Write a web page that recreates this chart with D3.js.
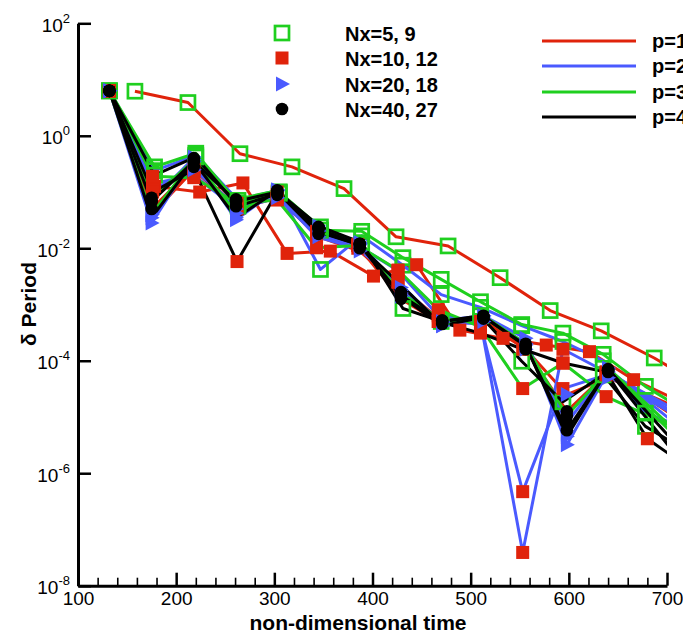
<!DOCTYPE html>
<html><head><meta charset="utf-8">
<script src="https://cdn.jsdelivr.net/npm/d3@7"></script>
<style>body{margin:0;background:#fff} svg{display:block;font-family:"Liberation Sans",Arial,Helvetica,sans-serif}</style>
</head><body><svg id="c" width="683" height="633"></svg>
<script>
// ---------- data ----------
// time grids (non-dimensional time of each detected period)
const tA = [132,175,218,261,303,345,387,429,471,513,556,598,640,724];
const tB = [132,178,220,263,305,347,389,431,470,510,552,594,635,678,720];
const tC = [158,212,265,318,371,424,477,530,581,633,687,740];
const tD = [132,178,224,268,313,357,401,445,489,533,577,621,666,710];
const tE = [132,176,218,262,303,343,385,426,467,510,553,594,638,680,722];
const tF = [132,176,218,262,303,343,385,426,467,510,553,594,638,722];

// Nx=40, 27 (circles)
const p4nx40 = [6.3,0.068,0.35,0.068,0.10,0.022,0.0117,1.45e-3,5.0e-4,6.2e-4,1.8e-4,5.8e-6,6.8e-5,1.0e-6];
const p3nx40 = [6.3,0.079,0.36,0.074,0.105,0.024,0.012,1.6e-3,5.2e-4,6.0e-4,1.86e-4,1.05e-5,6.8e-5,2.5e-6];
const p2nx40 = [6.3,0.071,0.40,0.071,0.107,0.023,0.012,1.66e-3,5.2e-4,6.3e-4,2.0e-4,7.9e-6,7.1e-5,4.6e-6];
const p1nx40 = [6.3,0.05,0.28,0.056,0.089,0.018,0.01,1.26e-3,4.5e-4,5.6e-4,1.6e-4,1.26e-5,6.3e-5,6.6e-6];
// Nx=20, 18 (triangles)
const p4nx20 = [6.3,0.035,0.35,0.035,0.105,0.02,0.0115,1.4e-3,4.2e-4,6.0e-4,1.9e-4,4.5e-6,7.1e-5,1.7e-6];
const p3nx20 = [6.3,0.04,0.38,0.042,0.107,0.025,0.012,1.6e-3,4.8e-4,6.3e-4,2.0e-4,5.0e-6,7.4e-5,3.2e-6];
const p2nx20 = [6.3,0.028,0.42,0.032,0.11,0.021,0.0126,1.8e-3,4.2e-4,6.3e-4,2.5e-4,3.2e-6,6.3e-5,7.8e-6];
const p1nx20 = [6.3,0.04,0.25,0.05,0.079,0.016,0.0089,2.0e-3,5.0e-4,5.0e-4,1.6e-4,2.5e-5,5.0e-5,1.17e-5];
// Nx=10, 12 (filled squares)
const p4nx10 = [6.3,0.10,0.25,5.8e-3,0.10,0.02,0.0117,2.5e-3,5.0e-4,3.1e-4,1.6e-4,9.1e-5,6.3e-5,4.1e-6,1.26e-6];
const p3nx10 = [6.3,0.19,0.18,0.063,0.072,0.0102,0.0112,4.1e-3,8.1e-4,4.0e-4,3.2e-5,9.1e-5,2.3e-5,5.0e-6];
const p2nx10 = [6.3,0.14,0.2,0.05,0.079,0.018,0.0112,4.0e-3,6.3e-4,5.0e-4,3.9e-8,1.6e-4,6.3e-5,1.0e-5];
const p2nx12 = [6.3,0.11,0.25,0.056,0.089,0.016,0.01,2.5e-3,5.0e-4,4.5e-4,4.7e-7,3.2e-5,5.6e-5,7.9e-6];
const p1nx10 = [6.3,0.126,0.10,0.145,8.1e-3,8.9e-3,3.2e-3,5.1e-3,3.5e-4,2.5e-4,1.9e-4,1.45e-4,4.6e-5,2.0e-5];
// Nx=5, 9 (open squares)
const p1nx5 = [6.2,3.9,0.48,0.28,0.115,0.016,0.011,3.0e-3,7.8e-4,3.4e-4,1.12e-4,3.2e-5];
const p3nx5 = [6.3,0.28,0.49,0.063,0.10,0.021,0.02,6.8e-3,2.8e-3,1.12e-3,4.4e-4,3.1e-4,1.3e-4,3.5e-5,1.26e-5];
const p2nx5 = [6.3,0.24,0.45,0.071,0.10,4.2e-3,0.0166,5.0e-3,1.5e-3,8.9e-4,4.2e-4,2.2e-4,1e-4,1.17e-5,6.3e-6];
const p4nx5 = [6.3,0.2,0.42,0.056,0.095,0.024,0.0126,8.5e-4,5.0e-4,6.3e-4,9.8e-5,1.86e-5,5.6e-5,6.8e-6,2.5e-6];

const markerLabels = ["Nx=5, 9","Nx=10, 12","Nx=20, 18","Nx=40, 27"];
const lineLabels = ["p=1","p=2","p=3","p=4"];
const xTicks = [100,200,300,400,500,600,700];
const yTicks = [1e2,1e0,1e-2,1e-4,1e-6,1e-8];

const series = [
  {p:1,m:0,t:tC,v:p1nx5},{p:1,m:1,t:tD,v:p1nx10},{p:1,m:2,t:tA,v:p1nx20},{p:1,m:3,t:tA,v:p1nx40},
  {p:2,m:0,t:tB,v:p2nx5},{p:2,m:1,t:tF,v:p2nx10},{p:2,m:1,t:tF,v:p2nx12},{p:2,m:2,t:tA,v:p2nx20},{p:2,m:3,t:tA,v:p2nx40},
  {p:3,m:0,t:tB,v:p3nx5},{p:3,m:1,t:tF,v:p3nx10},{p:3,m:2,t:tA,v:p3nx20},{p:3,m:3,t:tA,v:p3nx40},
  {p:4,m:0,t:tB,v:p4nx5},{p:4,m:1,t:tE,v:p4nx10},{p:4,m:2,t:tA,v:p4nx20},{p:4,m:3,t:tA,v:p4nx40}
];

// ---------- drawing ----------
const RED="#e0230b", BLUE="#4a5aff", GREEN="#1fcf1f", BLACK="#000";
const pColor = {1:RED,2:BLUE,3:GREEN,4:BLACK};
const svg = d3.select("#c");
const x = d3.scaleLinear().domain([100,700]).range([78,667]);
const y = d3.scaleLog().domain([1e-8,1e2]).range([585.7,23.3]);

svg.append("defs").append("clipPath").attr("id","clip")
  .append("rect").attr("x",78).attr("y",10).attr("width",589).attr("height",576);

const plot = svg.append("g").attr("clip-path","url(#clip)");
const line = d3.line().x(d=>x(d[0])).y(d=>y(d[1]));
[1,2,3,4].forEach(p=>{
  series.filter(s=>s.p===p).forEach(s=>{
    const pts = s.t.map((t,i)=>[t,s.v[i]]);
    plot.append("path").attr("d",line(pts)).attr("fill","none")
      .attr("stroke",pColor[p]).attr("stroke-width",3).attr("stroke-linejoin","round");
  });
});

function drawMarker(g,m,cx,cy){
  if(m===0) g.append("rect").attr("x",cx-7).attr("y",cy-7).attr("width",14).attr("height",14)
      .attr("fill","none").attr("stroke",GREEN).attr("stroke-width",2.7);
  else if(m===1) g.append("rect").attr("x",cx-6.5).attr("y",cy-6.5).attr("width",13).attr("height",13).attr("fill",RED);
  else if(m===2) g.append("path").attr("d",`M${cx-6},${cy-7.5}L${cx+8},${cy}L${cx-6},${cy+7.5}Z`).attr("fill",BLUE);
  else g.append("circle").attr("cx",cx).attr("cy",cy).attr("r",6.3).attr("fill",BLACK);
}
[0,1,2,3].forEach(m=>{
  series.filter(s=>s.m===m).forEach(s=>{
    s.t.forEach((t,i)=>{ if(t<=700) drawMarker(plot,m,x(t),y(s.v[i])); });
  });
});

// axes
const gx = svg.append("g").attr("transform",`translate(0,${y(1e-8)})`);
gx.call(d3.axisBottom(x).tickValues(xTicks).tickSize(-13).tickSizeOuter(0).tickPadding(6).tickFormat(d3.format("d")));
gx.select(".domain").attr("stroke-width",3);
gx.selectAll(".tick line").attr("stroke-width",2.5);
gx.selectAll(".tick text").style("font-size","19px").style("font-family","Liberation Sans, Arial, sans-serif").attr("fill","#000");
const minor = d3.range(120,700,20).filter(v=>v%100!==0);
const gxm = svg.append("g").attr("transform",`translate(0,${y(1e-8)})`);
gxm.call(d3.axisBottom(x).tickValues(minor).tickSize(-8).tickSizeOuter(0).tickFormat(""));
gxm.select(".domain").remove();
gxm.selectAll(".tick line").attr("stroke-width",1.6);

const gy = svg.append("g").attr("transform",`translate(${x(100)},0)`);
gy.call(d3.axisLeft(y).tickValues(yTicks).tickSize(-13).tickSizeOuter(0).tickFormat(""));
gy.select(".domain").attr("stroke-width",3);
gy.selectAll(".tick line").attr("stroke-width",2.5);
gy.selectAll(".tick").append("text").attr("x",-8).attr("y",8).attr("text-anchor","end").attr("fill","#000")
  .style("font-family","Liberation Sans, Arial, sans-serif")
  .each(function(d){
    const t=d3.select(this);
    t.append("tspan").style("font-size","19px").text("10");
    t.append("tspan").attr("dy",-9).style("font-size","13px").text(String(Math.round(Math.log10(d))));
  });

// axis titles
svg.append("text").attr("x",358).attr("y",630).attr("text-anchor","middle")
  .style("font-size","21px").style("font-weight","bold").text("non-dimensional time");
svg.append("text").attr("transform","translate(36,304) rotate(-90)").attr("text-anchor","middle")
  .style("font-size","21px").style("font-weight","bold").text("δ Period");

// legends
const leg1Y=[33,58,84,109];
markerLabels.forEach((lab,i)=>{
  drawMarker(svg,i,282,leg1Y[i]);
  svg.append("text").attr("x",345).attr("y",leg1Y[i]+7.5).style("font-size","20px").style("font-weight","bold").text(lab);
});
const leg2Y=[41,66,92,117];
lineLabels.forEach((lab,i)=>{
  svg.append("line").attr("x1",542).attr("x2",636).attr("y1",leg2Y[i]).attr("y2",leg2Y[i])
    .attr("stroke",pColor[i+1]).attr("stroke-width",3);
  svg.append("text").attr("x",652).attr("y",leg2Y[i]+7).style("font-size","20px").style("font-weight","bold").text(lab);
});
</script></body></html>
